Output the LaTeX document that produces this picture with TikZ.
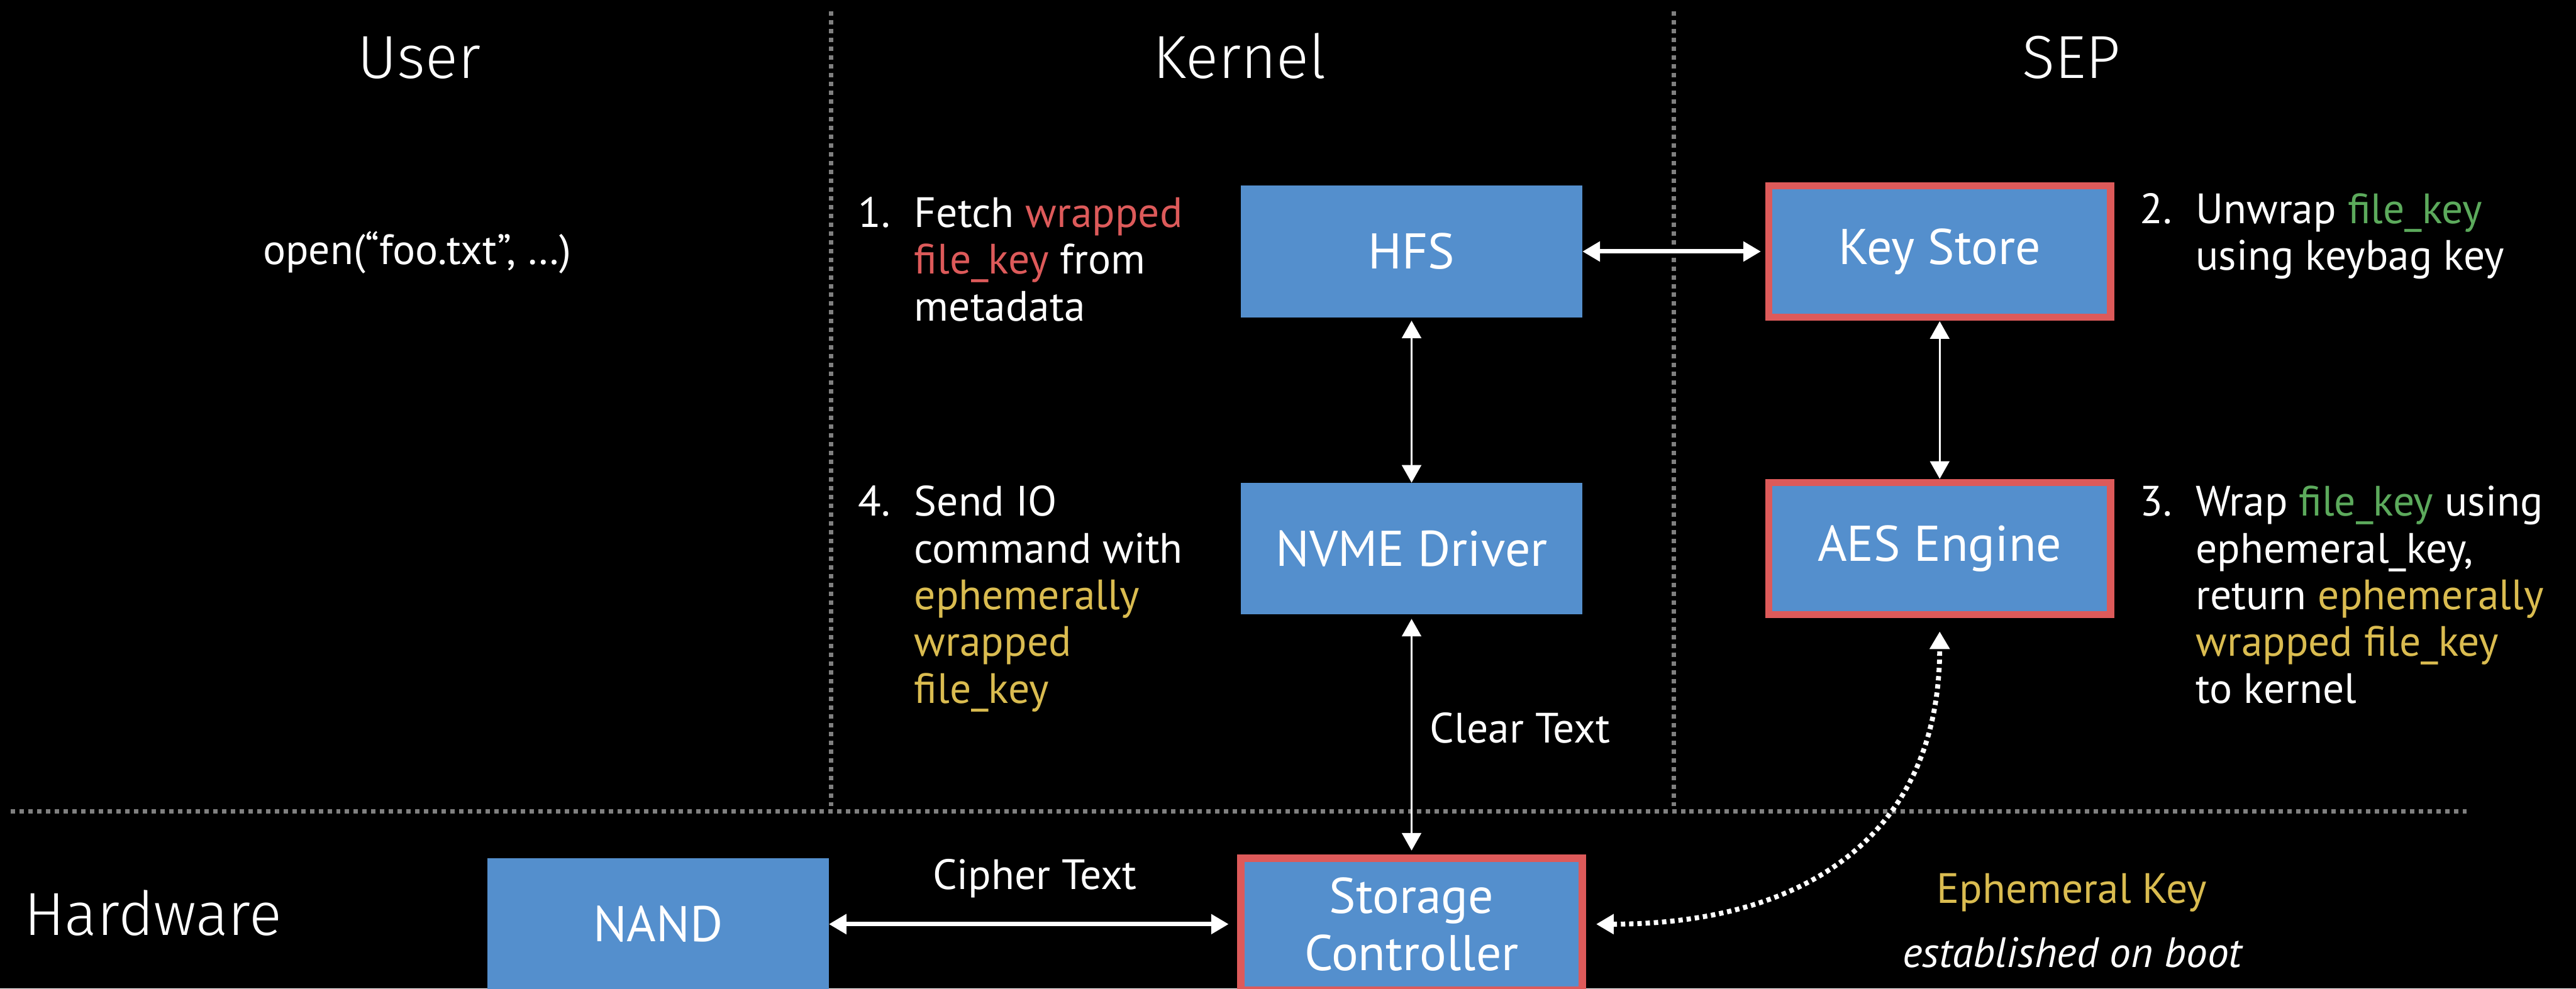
\documentclass[tikz,border=0pt]{standalone}
\usepackage{fontspec}
\setmainfont{PT Sans}
\newfontfamily\thinfont{Fira Sans Light}
\usetikzlibrary{positioning,arrows.meta}
\definecolor{boxblue}{RGB}{84,143,205}
\definecolor{keyred}{RGB}{221,90,90}
\definecolor{keygreen}{RGB}{92,170,92}
\definecolor{ephgold}{RGB}{218,188,80}
\definecolor{linegray}{RGB}{128,128,128}

\begin{document}
\begin{tikzpicture}[
    block/.style={fill=boxblue, text=white, minimum width=6.22cm, minimum height=2.4cm, inner sep=0pt, outer sep=0pt, align=center, font=\fontsize{26}{29.6}\selectfont},
    sepblock/.style={block, draw=keyred, line width=0.13cm},
    duplex/.style={{Triangle[width=0.35cm,length=0.32cm]}-{Triangle[width=0.35cm,length=0.32cm]}, white, line width=0.08cm},
    thinduplex/.style={duplex, line width=0.04cm},
    keylink/.style={duplex, line width=0.09cm, dash pattern=on 0.08cm off 0.07cm},
    divider/.style={linegray, line width=0.08cm, dash pattern=on 0.08cm off 0.08cm},
    heading/.style={text=white, font=\thinfont\fontsize{31.5}{36}\selectfont, inner sep=0pt, anchor=base},
    flowlabel/.style={text=white, font=\fontsize{22}{24.2}\selectfont, inner sep=0pt},
    steptext/.style={flowlabel, anchor=base west}
]
    \useasboundingbox (0,0) rectangle (46.9,18);
    \fill[black] (0,0) rectangle (46.9,18);

    % lanes
    \draw[divider] (15.13,17.79) -- (15.13,3.32);
    \draw[divider] (30.47,17.79) -- (30.47,3.32);
    \draw[divider] (0.20,3.22) -- (44.91,3.22);

    \node[heading] (user) at (7.63,16.57) {User};
    \node[heading] (kernel) at (22.57,16.57) {Kernel};
    \node[heading] (sep) at (37.71,16.57) {SEP};
    \node[heading, anchor=base west] (hardware) at (0.43,0.97) {Hardware};

    % blocks
    \node[block] (hfs) at (25.70,13.42) {HFS};
    \node[block, below=3.01cm of hfs] (nvme) {NVME Driver};
    \node[sepblock, right=3.395cm of hfs] (keystore) {Key Store};
    \node[sepblock, below=3.01cm of keystore] (aes) {AES Engine};
    \node[sepblock, below=4.44cm of nvme] (storage) {Storage\\Controller};
    \node[block, left=7.5cm of storage] (nand) {NAND};

    \draw[duplex, shorten >=0.145cm] (hfs) -- (keystore);
    \draw[thinduplex, shorten <=0.06cm] (hfs) -- (nvme);
    \draw[thinduplex, shorten <=0.07cm, shorten >=0.07cm] (keystore) -- (aes);
    \draw[thinduplex, shorten <=0.08cm, shorten >=0.14cm] (nvme) -- (storage);
    \draw[duplex, shorten >=0.22cm] (nand) -- node[flowlabel, anchor=base, yshift=0.63cm] (ciphertext) {Cipher Text} (storage);
    \draw[keylink, shorten <=0.25cm, shorten >=0.31cm] (storage.east) to[out=0, in=-90, looseness=1.2] (aes.south);

    % texts
    \node[flowlabel, anchor=base west] (opencall) at (4.78,13.18) {open(“foo.txt”, …)};
    \node[flowlabel, anchor=base west] (cleartext) at (26.03,4.47) {Clear Text};
    \node[flowlabel, anchor=base, text=ephgold] (ephkey) at (37.72,1.55) {Ephemeral Key};
    \node[flowlabel, anchor=base, font=\fontsize{22}{24.2}\selectfont\itshape] (bootnote) at (37.73,0.38) {established on boot};

    \node[steptext] (step1) at (15.62,13.86) {\begin{tabular}[t]{@{}p{1.02cm}@{}l@{}}
        1. & Fetch \textcolor{keyred}{wrapped}\\
           & \textcolor{keyred}{file\_key} from\\
           & metadata\end{tabular}};
    \node[steptext] (step4) at (15.62,8.60) {\begin{tabular}[t]{@{}p{1.02cm}@{}l@{}}
        4. & Send IO\\
           & command with\\
           & \textcolor{ephgold}{ephemerally}\\
           & \textcolor{ephgold}{wrapped}\\
           & \textcolor{ephgold}{file\_key}\end{tabular}};
    \node[steptext] (step2) at (38.95,13.93) {\begin{tabular}[t]{@{}p{1.02cm}@{}l@{}}
        2. & Unwrap \textcolor{keygreen}{file\_key}\\
           & using keybag key\end{tabular}};
    \node[steptext] (step3) at (38.95,8.60) {\begin{tabular}[t]{@{}p{1.02cm}@{}l@{}}
        3. & Wrap \textcolor{keygreen}{file\_key} using\\
           & ephemeral\_key,\\
           & return \textcolor{ephgold}{ephemerally}\\
           & \textcolor{ephgold}{wrapped file\_key}\\
           & to kernel\end{tabular}};
\end{tikzpicture}
\end{document}
